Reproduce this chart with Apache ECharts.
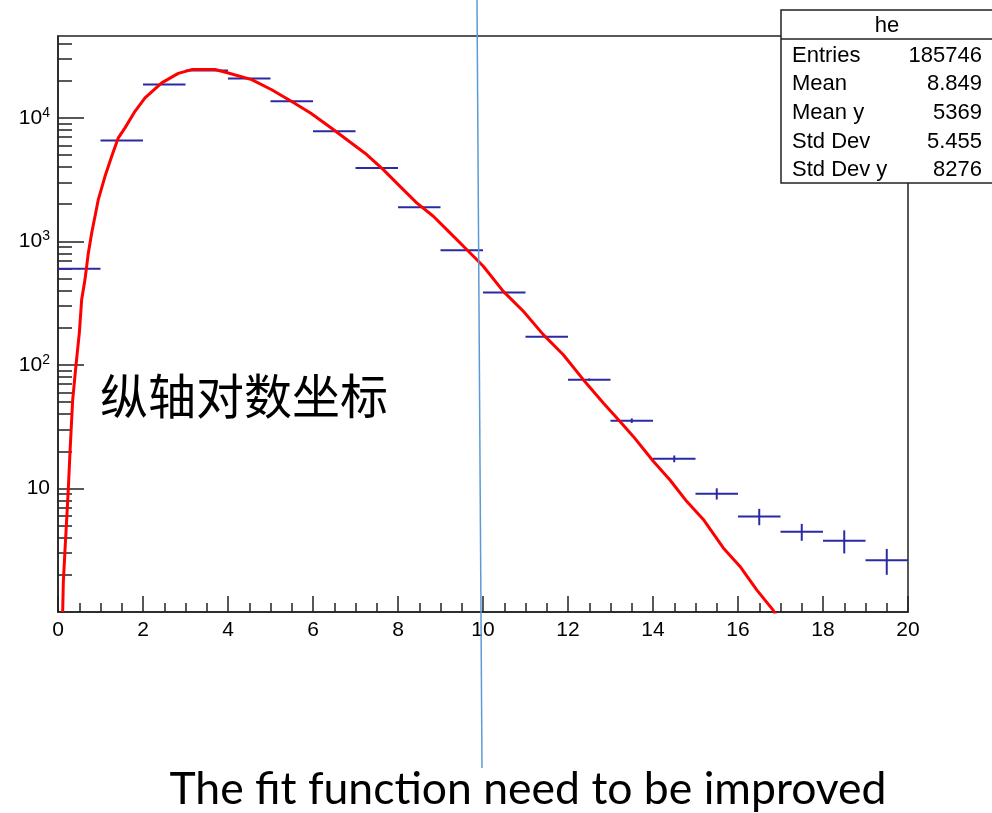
<!DOCTYPE html>
<html>
<head>
<meta charset="utf-8">
<script src="https://cdn.jsdelivr.net/npm/echarts@6/dist/echarts.min.js"></script>
<style>
  html, body { margin: 0; padding: 0; background: #fff; }
  #container { width: 992px; height: 813px; }
</style>
</head>
<body>
<div id="container"></div>
<script>
// histogram bins (width 1)
const binCenters = [0.5, 1.5, 2.5, 3.5, 4.5, 5.5, 6.5, 7.5, 8.5, 9.5,
    10.5, 11.5, 12.5, 13.5, 14.5, 15.5, 16.5, 17.5, 18.5, 19.5];
const binValues = [600, 6550, 18600, 24200, 20800, 13650, 7780, 3920, 1888, 847,
    385, 169, 76, 35.4, 17.4, 9.08, 5.94, 4.47, 3.78, 2.62];
const binErrors = [5, 17, 30, 35, 32, 25, 18, 12, 8, 5,
    3.5, 2.3, 1.6, 1.5, 1.1, 0.95, 0.9, 0.7, 0.8, 0.62];

// fit function, sampled from the red curve
const fitX = [0.11, 0.125, 0.165, 0.204, 0.243, 0.282, 0.345, 0.424, 0.502, 0.557,
    0.635, 0.713, 0.793, 0.871, 0.948, 1.106, 1.264, 1.419, 1.576, 1.812,
    2.047, 2.44, 2.831, 3.146, 3.694, 4.007, 4.558, 5.028, 5.499, 5.95,
    6.478, 6.948, 7.264, 7.654, 8.047, 8.44, 8.831, 9.224, 9.616, 10.007,
    10.478, 10.949, 11.419, 11.889, 12.36, 12.831, 13.224, 13.536, 14.007, 14.4,
    14.792, 15.184, 15.654, 16.047, 16.44, 16.831, 16.95];
const fitY = [1.0, 1.73, 3.2, 5.6, 10, 19.5, 52, 100, 182, 338,
    491, 802, 1172, 1597, 2180, 3365, 4890, 6890, 8300, 11300,
    14500, 19200, 22900, 24600, 24600, 23100, 20400, 16900, 13550, 10900,
    8040, 6080, 5050, 3813, 2790, 2050, 1597, 1172, 859, 630,
    394, 272, 176, 121, 76, 49.2, 34.9, 26.4, 16.6, 11.7,
    7.87, 5.61, 3.30, 2.34, 1.51, 1.03, 0.85];

const xTicks = [0, 2, 4, 6, 8, 10, 12, 14, 16, 18, 20];
const yMajor = [10, 100, 1000, 10000];
const yMinor = [2, 3, 4, 5, 6, 7, 8, 9, 20, 30, 40, 50, 60, 70, 80, 90,
    200, 300, 400, 500, 600, 700, 800, 900, 2000, 3000, 4000, 5000, 6000, 7000, 8000, 9000,
    20000, 30000, 40000];

const statNames = ['Entries', 'Mean', 'Mean y', 'Std Dev', 'Std Dev y'];
const statValues = ['185746', '8.849', '5369', '5.455', '8276'];

const FONT = 'Liberation Sans';
const chart = echarts.init(document.getElementById('container'));

const statGraphics = [];
statNames.forEach((name, i) => {
    const y = 55.5 + i * 28.7;
    statGraphics.push({
        type: 'text', x: 792, y: y, z: 11,
        style: { text: name, font: '22px ' + FONT, fill: '#000', verticalAlign: 'middle' },
    });
    statGraphics.push({
        type: 'text', x: 982, y: y, z: 11,
        style: { text: statValues[i], font: '22px ' + FONT, fill: '#000', align: 'right', verticalAlign: 'middle' },
    });
});

chart.setOption({
    animation: false,
    grid: { left: 58, top: 36, right: 84, bottom: 201, show: true, borderColor: '#222', borderWidth: 1.5 },
    xAxis: {
        type: 'value', min: 0, max: 20, interval: 2,
        axisLine: { lineStyle: { color: '#222', width: 1.5 } },
        axisTick: { inside: true, length: 16, lineStyle: { color: '#222', width: 1.5 } },
        minorTick: { show: true, splitNumber: 4, length: 9, lineStyle: { color: '#222', width: 1.5 } },
        axisLabel: { color: '#000', fontFamily: FONT, fontSize: 21, margin: 8,
            customValues: xTicks },
        splitLine: { show: false },
    },
    yAxis: [{
        type: 'log', logBase: 10, min: 1, max: 46000,
        axisLine: { show: true, lineStyle: { color: '#222', width: 1.5 } },
        axisTick: { inside: true, length: 26, customValues: yMajor, lineStyle: { color: '#222', width: 1.5 } },
        axisLabel: {
            customValues: yMajor, margin: 8, color: '#000', fontFamily: FONT, fontSize: 21,
            formatter: (v) => v === 10 ? '10' : '10{s|' + Math.round(Math.log10(v)) + '}',
            rich: { s: { fontSize: 14, fontFamily: FONT, color: '#000', verticalAlign: 'top', lineHeight: 24 } },
        },
        splitLine: { show: false },
    }, {
        type: 'log', logBase: 10, min: 1, max: 46000, position: 'left',
        axisLine: { show: false },
        axisTick: { inside: true, length: 14, customValues: yMinor, lineStyle: { color: '#222', width: 1.5 } },
        axisLabel: { show: false },
        splitLine: { show: false },
    }],
    series: [{
        type: 'custom',
        data: binCenters.map((x, i) => [x, binValues[i], binErrors[i]]),
        encode: { x: 0, y: 1 },
        renderItem: (params, api) => {
            const x = api.value(0), y = api.value(1), e = api.value(2);
            const l = api.coord([x - 0.5, y]);
            const r = api.coord([x + 0.5, y]);
            const t = api.coord([x, y + e]);
            const b = api.coord([x, y - e]);
            const st = { stroke: '#2a2aa6', lineWidth: 2 };
            return {
                type: 'group',
                children: [
                    { type: 'line', shape: { x1: l[0], y1: l[1], x2: r[0], y2: r[1] }, style: st },
                    { type: 'line', shape: { x1: t[0], y1: t[1], x2: b[0], y2: b[1] }, style: st },
                ],
            };
        },
        z: 3,
    }, {
        type: 'line',
        data: fitX.map((x, i) => [x, fitY[i]]),
        showSymbol: false,
        clip: true,
        lineStyle: { color: '#ff0000', width: 3, join: 'round' },
        z: 4,
    }],
    graphic: [
        { type: 'rect', shape: { x: 781, y: 10, width: 220, height: 173 },
          style: { fill: '#fff', stroke: '#222', lineWidth: 1.5 }, z: 10 },
        { type: 'line', shape: { x1: 781, y1: 39, x2: 992, y2: 39 },
          style: { stroke: '#222', lineWidth: 1.5 }, z: 11 },
        { type: 'text', x: 887, y: 26, z: 11,
          style: { text: 'he', font: '22px ' + FONT, fill: '#000', align: 'center', verticalAlign: 'middle' } },
        ...statGraphics,
        { type: 'text', x: 100, y: 396, z: 11,
          style: { text: '纵轴对数坐标', font: '48px "Noto Sans CJK SC"', fill: '#000', verticalAlign: 'middle' } },
        { type: 'line', shape: { x1: 477, y1: 0, x2: 482, y2: 768 },
          style: { stroke: '#5b9bd5', lineWidth: 1.5 }, z: 12 },
        { type: 'text', x: 528, y: 790, z: 11,
          style: { text: 'The fit function need to be improved', font: '44.5px Lato', fill: '#000',
              align: 'center', verticalAlign: 'middle' } },
    ],
});
</script>
</body>
</html>
